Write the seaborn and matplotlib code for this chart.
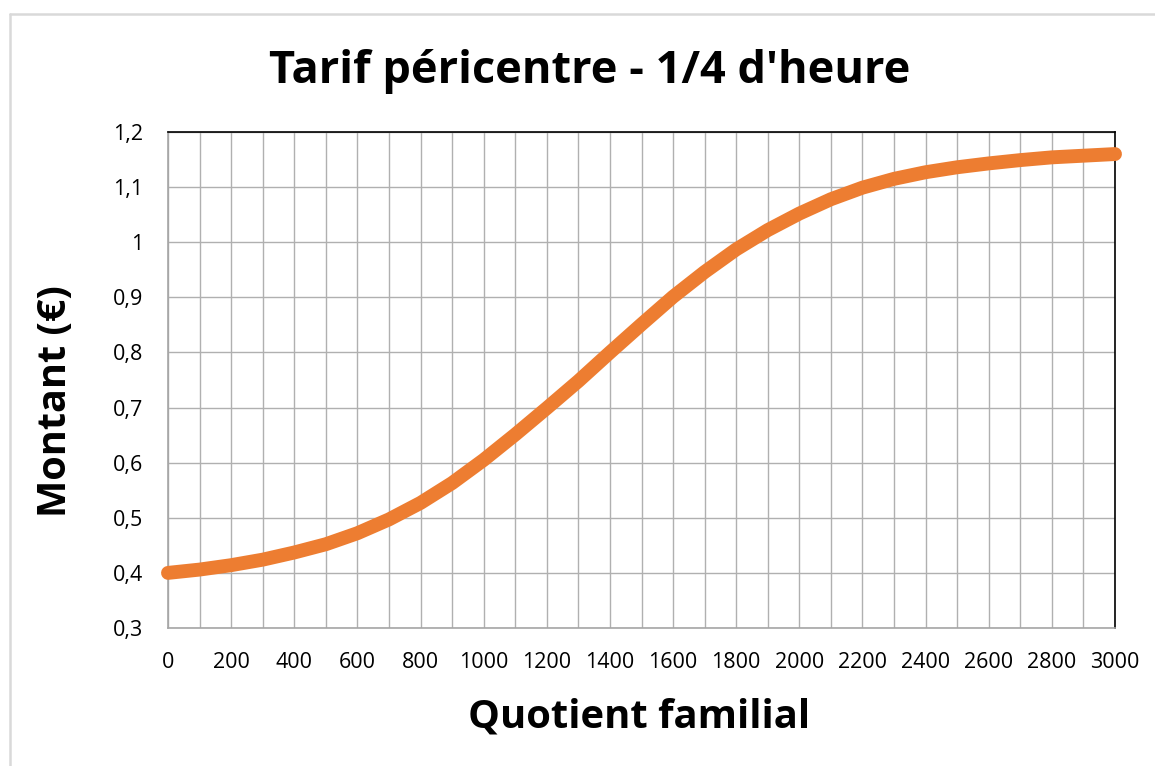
import matplotlib
matplotlib.use("Agg")
import matplotlib.pyplot as plt
import seaborn as sns
import pandas as pd
from matplotlib.lines import Line2D
from matplotlib.ticker import MultipleLocator, FuncFormatter

# Data
quotient = [0, 100, 200, 300, 400, 500, 600, 700, 800, 900, 1000,
            1100, 1200, 1300, 1400, 1500, 1600, 1700, 1800, 1900, 2000,
            2100, 2200, 2300, 2400, 2500, 2600, 2700, 2800, 2900, 3000]
montant = [0.400, 0.406, 0.414, 0.424, 0.437, 0.452, 0.472, 0.497, 0.527, 0.563, 0.605,
           0.651, 0.699, 0.748, 0.800, 0.851, 0.901, 0.946, 0.987, 1.022, 1.052,
           1.078, 1.099, 1.115, 1.127, 1.136, 1.143, 1.149, 1.154, 1.157, 1.160]
x_ticks = [0, 200, 400, 600, 800, 1000, 1200, 1400, 1600, 1800, 2000,
           2200, 2400, 2600, 2800, 3000]
y_ticks = [0.3, 0.4, 0.5, 0.6, 0.7, 0.8, 0.9, 1.0, 1.1, 1.2]

title = "Tarif péricentre - 1/4 d'heure"
xlabel = "Quotient familial"
ylabel = "Montant (€)"

sns.set_theme(style="white")
plt.rcParams['font.family'] = ['Open Sans', 'DejaVu Sans']

W, H = 1155, 766
fig = plt.figure(figsize=(W / 100, H / 100), dpi=100)
ax = fig.add_axes([168 / W, 1 - 628 / H, (1115 - 168) / W, (628 - 132) / H])

df = pd.DataFrame({"Quotient": quotient, "Montant": montant})
sns.lineplot(data=df, x="Quotient", y="Montant", ax=ax, color="#ED7D31",
             linewidth=10, solid_capstyle="round", solid_joinstyle="round",
             clip_on=False, zorder=5)

ax.set_xlim(0, 3000)
ax.set_ylim(0.3, 1.2)
ax.set_xticks(x_ticks)
ax.set_yticks(y_ticks)
ax.xaxis.set_minor_locator(MultipleLocator(100))
ax.grid(True, which="both", axis="x", color="#b0b0b0", linewidth=1.0)
ax.grid(True, which="major", axis="y", color="#b0b0b0", linewidth=1.0)
ax.set_axisbelow(True)

def fmt(v, pos):
    s = f"{v:.1f}".replace(".", ",")
    if s.endswith(",0"):
        s = s[:-2]
    return s

ax.yaxis.set_major_formatter(FuncFormatter(fmt))
ax.tick_params(axis="both", which="both", length=0, labelsize=15.5, colors="black")
ax.tick_params(axis="y", pad=18)
ax.tick_params(axis="x", pad=17)
ax.set_xlabel("")
ax.set_ylabel("")

for side in ["top", "right"]:
    ax.spines[side].set_color("black")
    ax.spines[side].set_linewidth(1.2)
for side in ["left", "bottom"]:
    ax.spines[side].set_color("#a6a6a6")
    ax.spines[side].set_linewidth(1.2)

fig.text(590 / W, 1 - 72 / H, title, ha="center", va="center",
         fontsize=32.5, fontweight="bold", color="black")
fig.text(639 / W, 1 - 717 / H, xlabel, ha="center", va="center",
         fontsize=28.8, fontweight="bold", color="black")
fig.text(56 / W, 1 - 401 / H, ylabel, ha="center", va="center", rotation=90,
         fontsize=28.5, fontweight="bold", color="black")

# outer chart border (light gray)
fig.add_artist(Line2D([10 / W, 10 / W], [0, 1 - 14 / H], transform=fig.transFigure,
                      color="#d9d9d9", linewidth=1.8))
fig.add_artist(Line2D([10 / W, 1], [1 - 14 / H, 1 - 14 / H], transform=fig.transFigure,
                      color="#d9d9d9", linewidth=1.8))

fig.savefig("out.png", dpi=100, facecolor="white")
